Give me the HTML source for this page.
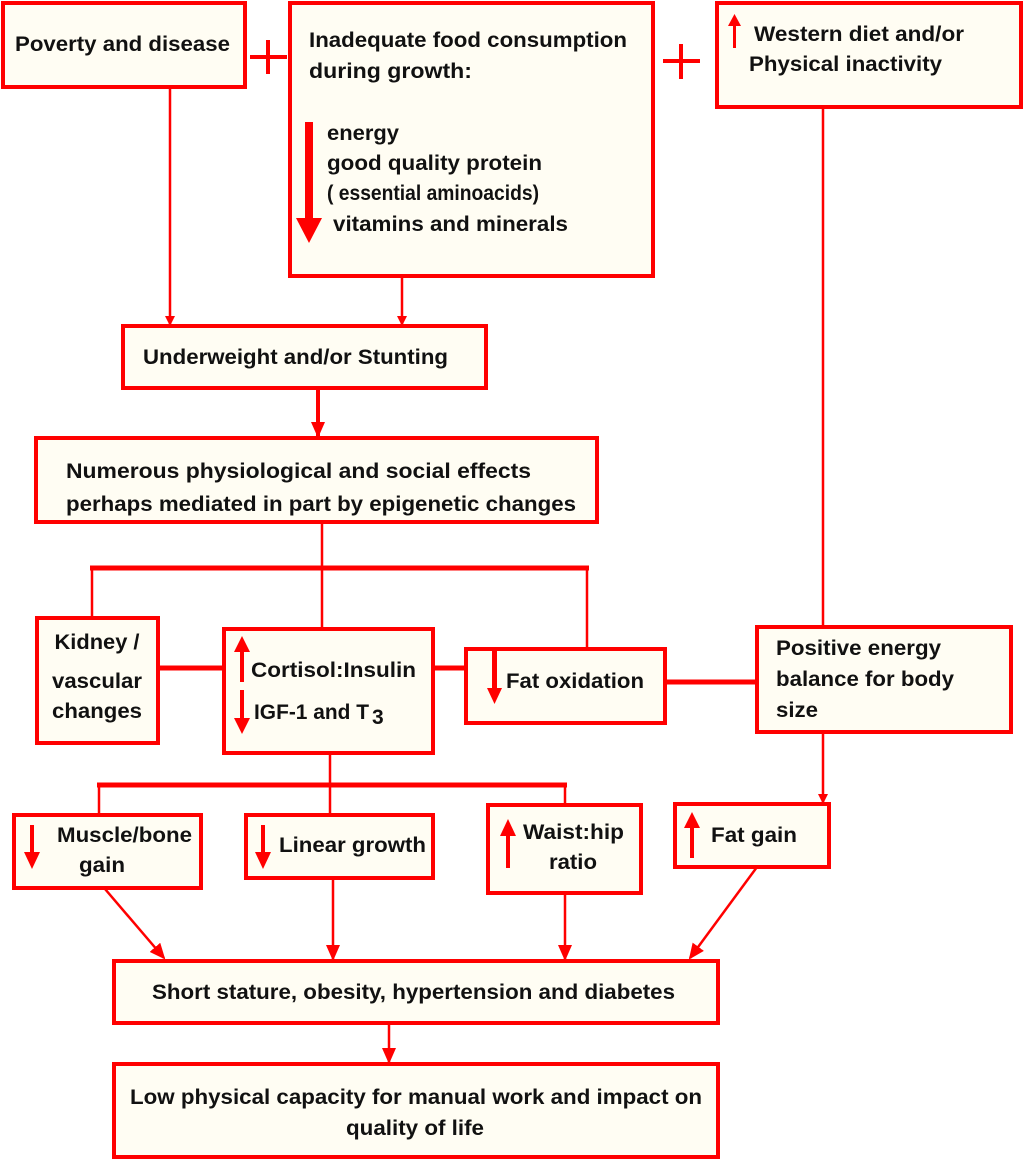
<!DOCTYPE html>
<html><head><meta charset="utf-8"><style>
html,body{margin:0;padding:0;background:#fff;}
svg text{font-family:"Liberation Sans Narrow","Liberation Sans",sans-serif;font-weight:bold;fill:#111;font-size:21px;}
</style></head><body>
<svg width="1024" height="1160" viewBox="0 0 1024 1160" xmlns="http://www.w3.org/2000/svg">
<defs>
<marker id="ah" markerWidth="10" markerHeight="10" refX="8" refY="5" orient="auto" markerUnits="userSpaceOnUse"><path d="M0,0 L10,5 L0,10 z" fill="#f00"/></marker>
<marker id="ab" markerWidth="16" markerHeight="16" refX="14" refY="8" orient="auto" markerUnits="userSpaceOnUse"><path d="M0,1 L16,8 L0,15 z" fill="#f00"/></marker>
</defs>
<g fill="#fffdf3" stroke="#f00" stroke-width="4">
<rect x="3" y="3" width="242" height="84"/>
<rect x="290" y="3" width="363" height="273"/>
<rect x="717" y="3" width="304" height="104"/>
<rect x="123" y="326" width="363" height="62"/>
<rect x="36" y="438" width="561" height="84"/>
<rect x="37" y="618" width="121" height="125"/>
<rect x="224" y="629" width="209" height="124"/>
<rect x="466" y="649" width="199" height="74"/>
<rect x="757" y="627" width="254" height="105"/>
<rect x="14" y="815" width="187" height="73"/>
<rect x="246" y="815" width="187" height="63"/>
<rect x="488" y="805" width="153" height="88"/>
<rect x="675" y="804" width="154" height="63"/>
<rect x="114" y="961" width="604" height="62"/>
<rect x="114" y="1064" width="604" height="93"/>
</g>
<!-- plus signs -->
<g stroke="#f00" stroke-width="4">
<line x1="250" y1="57" x2="287" y2="57"/><line x1="268" y1="40" x2="268" y2="74"/>
<line x1="663" y1="61" x2="700" y2="61"/><line x1="681" y1="44" x2="681" y2="79"/>
</g>
<!-- connectors -->
<g stroke="#f00" stroke-width="2.5" fill="none">
<line x1="170" y1="87" x2="170" y2="324" marker-end="url(#ah)"/>
<line x1="402" y1="276" x2="402" y2="324" marker-end="url(#ah)"/>
<line x1="823" y1="107" x2="823" y2="626"/>
<line x1="318" y1="388" x2="318" y2="436" stroke-width="4" marker-end="url(#ab)"/>
<line x1="322" y1="522" x2="322" y2="628"/>
<line x1="92" y1="568" x2="92" y2="617"/>
<line x1="587" y1="568" x2="587" y2="648"/>
<line x1="330" y1="753" x2="330" y2="815"/>
<line x1="99" y1="785" x2="99" y2="815"/>
<line x1="565" y1="785" x2="565" y2="805"/>
<line x1="823" y1="732" x2="823" y2="802" marker-end="url(#ah)"/>
<line x1="105" y1="889" x2="164" y2="958" marker-end="url(#ab)"/>
<line x1="333" y1="878" x2="333" y2="959" marker-end="url(#ab)"/>
<line x1="565" y1="893" x2="565" y2="959" marker-end="url(#ab)"/>
<line x1="757" y1="867" x2="690" y2="958" marker-end="url(#ab)"/>
<line x1="389" y1="1023" x2="389" y2="1062" marker-end="url(#ab)"/>
</g>
<g stroke="#f00" stroke-width="5">
<line x1="90" y1="568" x2="589" y2="568"/>
<line x1="97" y1="785" x2="567" y2="785"/>
<line x1="158" y1="668" x2="224" y2="668"/>
<line x1="433" y1="668" x2="466" y2="668"/>
<line x1="665" y1="682" x2="757" y2="682"/>
</g>
<!-- red arrows inside boxes -->
<g fill="#f00" stroke="none">
<rect x="305" y="122" width="8" height="100"/><path d="M296,218 L322,218 L309,243 z"/>
<rect x="733" y="24" width="3" height="24"/><path d="M728,26 L741,26 L734.5,14 z"/>
<rect x="240" y="650" width="4" height="32"/><path d="M234,652 L250,652 L242,636 z"/>
<rect x="240" y="690" width="4" height="30"/><path d="M234,718 L250,718 L242,734 z"/>
<rect x="492" y="650" width="5" height="40"/><path d="M487,688 L502,688 L494.5,704 z"/>
<rect x="30" y="825" width="4" height="30"/><path d="M24,852 L40,852 L32,869 z"/>
<rect x="261" y="825" width="4" height="30"/><path d="M255,852 L271,852 L263,869 z"/>
<rect x="506" y="833" width="4" height="35"/><path d="M500,836 L516,836 L508,819 z"/>
<rect x="690" y="825" width="4" height="33"/><path d="M684,828 L700,828 L692,812 z"/>
</g>
<!-- text -->
<text x="15" y="51" textLength="215" lengthAdjust="spacingAndGlyphs">Poverty and disease</text>
<text x="309" y="47" textLength="318" lengthAdjust="spacingAndGlyphs">Inadequate food consumption</text>
<text x="309" y="78" textLength="163" lengthAdjust="spacingAndGlyphs">during  growth:</text>
<text x="327" y="140" textLength="72" lengthAdjust="spacingAndGlyphs">energy</text>
<text x="327" y="170" textLength="215" lengthAdjust="spacingAndGlyphs">good quality protein</text>
<text x="327" y="200" font-size="16" textLength="212" lengthAdjust="spacingAndGlyphs">( essential aminoacids)</text>
<text x="333" y="231" textLength="235" lengthAdjust="spacingAndGlyphs">vitamins and minerals</text>
<text x="754" y="41" textLength="210" lengthAdjust="spacingAndGlyphs">Western diet and/or</text>
<text x="749" y="71" textLength="193" lengthAdjust="spacingAndGlyphs">Physical inactivity</text>
<text x="143" y="364" textLength="305" lengthAdjust="spacingAndGlyphs">Underweight and/or Stunting</text>
<text x="66" y="478" textLength="465" lengthAdjust="spacingAndGlyphs">Numerous physiological and social effects</text>
<text x="66" y="511" textLength="510" lengthAdjust="spacingAndGlyphs">perhaps mediated in part by epigenetic changes</text>
<text x="97" y="649" text-anchor="middle" textLength="85" lengthAdjust="spacingAndGlyphs">Kidney /</text>
<text x="97" y="688" text-anchor="middle" textLength="90" lengthAdjust="spacingAndGlyphs">vascular</text>
<text x="97" y="718" text-anchor="middle" textLength="90" lengthAdjust="spacingAndGlyphs">changes</text>
<text x="251" y="677" textLength="165" lengthAdjust="spacingAndGlyphs">Cortisol:Insulin</text>
<text x="254" y="719" textLength="115" lengthAdjust="spacingAndGlyphs">IGF-1 and T</text><text x="372" y="724" font-size="13">3</text>
<text x="506" y="688" textLength="138" lengthAdjust="spacingAndGlyphs">Fat oxidation</text>
<text x="776" y="655" textLength="165" lengthAdjust="spacingAndGlyphs">Positive energy</text>
<text x="776" y="686" textLength="178" lengthAdjust="spacingAndGlyphs">balance for body</text>
<text x="776" y="717" textLength="42" lengthAdjust="spacingAndGlyphs">size</text>
<text x="57" y="842" textLength="135" lengthAdjust="spacingAndGlyphs">Muscle/bone</text>
<text x="79" y="872" textLength="46" lengthAdjust="spacingAndGlyphs">gain</text>
<text x="279" y="852" textLength="147" lengthAdjust="spacingAndGlyphs">Linear growth</text>
<text x="523" y="839" textLength="101" lengthAdjust="spacingAndGlyphs">Waist:hip</text>
<text x="549" y="869" textLength="48" lengthAdjust="spacingAndGlyphs">ratio</text>
<text x="711" y="842" textLength="86" lengthAdjust="spacingAndGlyphs">Fat gain</text>
<text x="152" y="999" textLength="523" lengthAdjust="spacingAndGlyphs">Short stature, obesity, hypertension and diabetes</text>
<text x="130" y="1104" textLength="572" lengthAdjust="spacingAndGlyphs">Low physical capacity for manual work and impact on</text>
<text x="346" y="1135" textLength="138" lengthAdjust="spacingAndGlyphs">quality of life</text>
</svg>
</body></html>
